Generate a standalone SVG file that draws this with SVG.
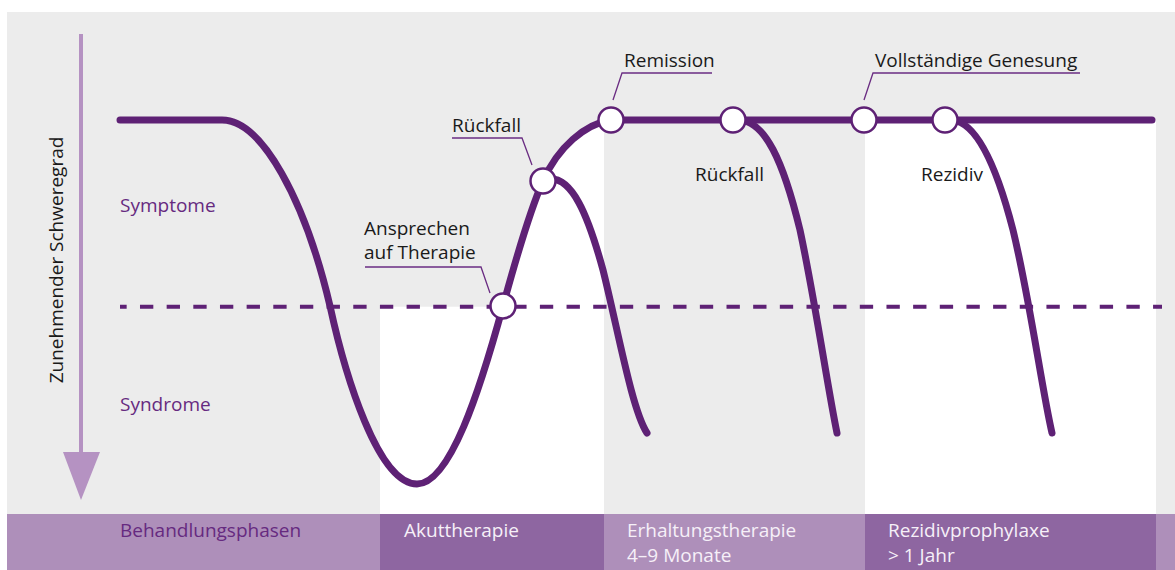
<svg xmlns="http://www.w3.org/2000/svg" width="1175" height="570" viewBox="0 0 1175 570">
<defs>
<style>
.lbl{font-family:"Open Sans","Noto Sans",sans-serif;font-size:19px;fill:#1a1a1a}
.pl{font-family:"Open Sans","Noto Sans",sans-serif;font-size:19px;fill:#662a80}
.bw{font-family:"Open Sans","Noto Sans",sans-serif;font-size:19px;fill:#f6f0f8}
.curve{fill:none;stroke:#5e2175;stroke-width:7;stroke-linecap:round;stroke-linejoin:round}
.lead{fill:none;stroke:#6a2c82;stroke-width:1.3}
.node{fill:#ffffff;stroke:#5e2175;stroke-width:2.5}
</style>
<clipPath id="acuteClip"><rect x="380" y="0" width="224" height="514"/></clipPath>
</defs>
<g id="background">
<rect x="7" y="12" width="1168" height="502" fill="#ececec"/>
<path d="M380,306.7 H503 C512,273 528,215 543,181 C558,147 585,124 611,120 L611,514 L380,514 Z" fill="#ffffff" clip-path="url(#acuteClip)"/>
<rect x="865" y="120" width="291" height="394" fill="#ffffff"/>
</g>
<g id="phase-bar">
<rect x="7" y="514" width="373" height="56" fill="#ae8fba"/>
<rect x="380" y="514" width="224" height="56" fill="#8e66a1"/>
<rect x="604" y="514" width="261" height="56" fill="#ae8fba"/>
<rect x="865" y="514" width="291" height="56" fill="#8e66a1"/>
<rect x="1156" y="514" width="19" height="56" fill="#ae8fba"/>
<text class="pl" x="120" y="537">Behandlungsphasen</text>
<text class="bw" x="404" y="537">Akuttherapie</text>
<text class="bw" x="627" y="537">Erhaltungstherapie</text>
<text class="bw" x="627" y="562">4–9 Monate</text>
<text class="bw" x="888" y="537">Rezidivprophylaxe</text>
<text class="bw" x="888" y="562">&gt; 1 Jahr</text>
</g>
<g id="axis">
<line x1="81" y1="34" x2="81" y2="455" stroke="#b592c2" stroke-width="4"/>
<polygon points="63,452 100,452 81,500" fill="#b592c2"/>
<text class="lbl" transform="translate(63,260) rotate(-90)" text-anchor="middle">Zunehmender Schweregrad</text>
<text class="pl" x="120" y="212">Symptome</text>
<text class="pl" x="120" y="411">Syndrome</text>
</g>
<g id="connectors">
<line x1="120" y1="306.7" x2="1162" y2="306.7" stroke="#5e2175" stroke-width="4" stroke-dasharray="13.33 13.33" stroke-dashoffset="6.67"/>
<path class="curve" d="M120,120 H222 C262,120 305,200 330,306 C345,375 378,484 417,484 C450,484 480,390 503,306 C512,273 528,215 543,181 C558,147 585,124 611,120 H1152"/>
<path class="curve" d="M548,179 C572,176 588,215 603,270 C618,330 632,410 647,433"/>
<path class="curve" d="M740,120 C765,122 783,160 800,230 C815,300 828,390 837,433"/>
<path class="curve" d="M952,120 C975,122 995,160 1013,230 C1030,300 1042,390 1052,433"/>
<polyline class="lead" points="613,100 622,73 712,73"/>
<polyline class="lead" points="452,138 522,138 532,165"/>
<polyline class="lead" points="365,267 481,267 490,293"/>
<polyline class="lead" points="864,100 873,73 1080,73"/>
</g>
<g id="n-ansprechen"><circle class="node" cx="503" cy="306" r="12.5"/><text class="lbl" x="364" y="235">Ansprechen</text><text class="lbl" x="364" y="259">auf Therapie</text></g>
<g id="n-rueckfall1"><circle class="node" cx="543" cy="181" r="12.5"/><text class="lbl" x="452" y="132">Rückfall</text></g>
<g id="n-remission"><circle class="node" cx="611" cy="120" r="12.5"/><text class="lbl" x="624" y="67">Remission</text></g>
<g id="n-rueckfall2"><circle class="node" cx="733" cy="120" r="12.5"/><text class="lbl" x="695" y="181">Rückfall</text></g>
<g id="n-genesung"><circle class="node" cx="864" cy="120" r="12.5"/><text class="lbl" x="875" y="67">Vollständige Genesung</text></g>
<g id="n-rezidiv"><circle class="node" cx="945" cy="120" r="12.5"/><text class="lbl" x="921" y="181">Rezidiv</text></g>
</svg>
